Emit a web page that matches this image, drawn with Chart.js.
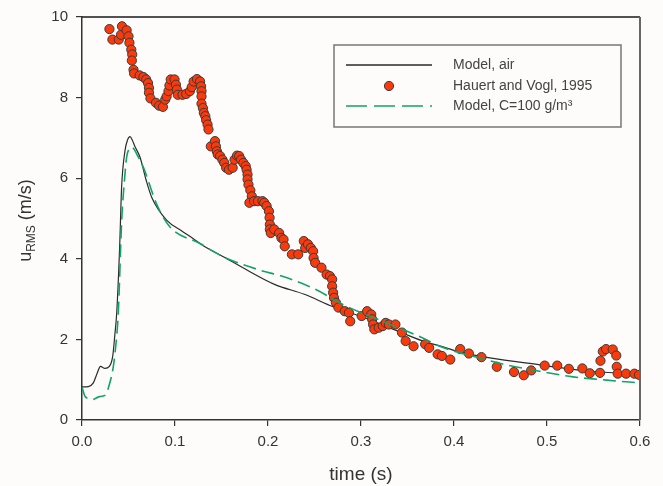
<!DOCTYPE html>
<html>
<head>
<meta charset="utf-8">
<title>u_RMS vs time</title>
<script src="https://cdn.jsdelivr.net/npm/chart.js@4/dist/chart.umd.min.js"></script>
<style>
  html, body { margin: 0; padding: 0; background: #fefcfb; }
  #wrap { width: 663px; height: 486px; position: relative; }
</style>
</head>
<body>
<div id="wrap"><canvas id="c" width="663" height="486"></canvas></div>
<script>
// Model, air
const airTime = [0, 0.0068, 0.0122, 0.0158, 0.020, 0.0247, 0.0294, 0.033, 0.0355, 0.0373, 0.0405, 0.0426, 0.0462, 0.049, 0.0516, 0.054, 0.0568, 0.0624, 0.069, 0.0749, 0.091, 0.108, 0.1197, 0.130, 0.152, 0.1806, 0.2076, 0.239, 0.270, 0.2984, 0.335, 0.3665, 0.3845, 0.403, 0.4385, 0.4923, 0.546, 0.6];
const airU = [0.82, 0.83, 0.92, 1.13, 1.33, 1.28, 1.33, 1.58, 2.16, 2.65, 4.30, 5.78, 6.68, 6.95, 7.03, 6.95, 6.79, 6.52, 5.95, 5.53, 4.96, 4.68, 4.50, 4.33, 4.05, 3.68, 3.36, 3.12, 2.81, 2.58, 2.25, 1.96, 1.84, 1.71, 1.54, 1.37, 1.21, 1.14];

// Hauert and Vogl, 1995
const hvTime = [0.0295,0.0327,0.0395,0.042,0.043,0.048,0.050,0.051,0.053,0.054,
  0.0536,0.0554,0.056,0.062,0.066,0.069,0.071,0.072,0.072,0.0736,
  0.0795,0.083,0.087,0.0895,0.091,0.093,0.094,0.0954,0.0995,0.101,
  0.102,0.103,0.108,0.112,0.116,0.118,0.120,0.1236,0.127,0.128,
  0.1285,0.1285,0.1285,0.130,0.131,0.1326,0.1335,0.135,0.136,0.1385,
  0.143,0.144,0.145,0.146,0.1485,0.151,0.153,0.155,0.158,0.162,
  0.164,0.1667,0.169,0.171,0.1735,0.176,0.177,0.178,0.178,0.179,
  0.181,0.1826,0.180,0.185,0.189,0.194,0.196,0.1985,0.201,0.2017,
  0.202,0.202,0.203,0.2067,0.212,0.2144,0.2167,0.218,0.2257,0.2325,
  0.2385,0.240,0.243,0.246,0.2485,0.249,0.2507,0.2575,0.263,0.2666,
  0.269,0.269,0.270,0.271,0.273,0.2757,0.2825,0.287,0.2884,0.3007,
  0.3066,0.311,0.312,0.313,0.3143,0.319,0.3234,0.3266,0.330,0.337,
  0.344,0.348,0.3565,0.369,0.3733,0.3824,0.387,0.396,0.4067,0.416,
  0.4295,0.446,0.4645,0.475,0.483,0.4975,0.511,0.5235,0.538,0.546,
  0.557,0.5575,0.560,0.5635,0.5707,0.5745,0.575,0.576,0.585,0.594,
  0.599];
const hvU = [9.70,9.44,9.44,9.56,9.77,9.67,9.52,9.36,9.19,9.07,
  8.92,8.69,8.60,8.55,8.51,8.45,8.36,8.24,8.12,7.98,
  7.87,7.80,7.77,7.95,8.03,8.16,8.30,8.45,8.45,8.32,
  8.20,8.07,8.07,8.09,8.16,8.26,8.40,8.46,8.40,8.28,
  8.16,8.03,7.85,7.74,7.62,7.54,7.44,7.33,7.21,6.79,
  6.92,6.79,6.67,6.59,6.55,6.46,6.38,6.26,6.21,6.26,
  6.46,6.56,6.55,6.46,6.38,6.30,6.21,6.09,5.97,5.84,
  5.70,5.55,5.39,5.43,5.43,5.43,5.39,5.31,5.18,5.02,
  4.85,4.73,4.64,4.73,4.64,4.52,4.48,4.31,4.11,4.11,
  4.44,4.27,4.36,4.27,4.19,4.02,3.90,3.78,3.61,3.57,
  3.49,3.32,3.16,3.03,2.91,2.79,2.70,2.66,2.45,2.58,
  2.70,2.62,2.50,2.37,2.25,2.29,2.33,2.41,2.37,2.37,
  2.17,1.96,1.83,1.88,1.79,1.63,1.59,1.50,1.76,1.65,
  1.56,1.32,1.19,1.11,1.23,1.35,1.35,1.27,1.28,1.16,
  1.17,1.47,1.70,1.76,1.75,1.60,1.32,1.15,1.15,1.15,
  1.12];

// Model, C=100 g/m3
const loadTime = [0, 0.0032, 0.0077, 0.0115, 0.0186, 0.0247, 0.0294, 0.0337, 0.0366, 0.039, 0.0427, 0.0455, 0.048, 0.0505, 0.0534, 0.056, 0.060, 0.066, 0.080, 0.0946, 0.1268, 0.152, 0.191, 0.2163, 0.252, 0.281, 0.324, 0.367, 0.3845, 0.4205, 0.456, 0.492, 0.528, 0.564, 0.6];
const loadU = [0.82, 0.59, 0.53, 0.51, 0.58, 0.61, 0.88, 1.33, 1.91, 2.65, 4.96, 5.90, 6.52, 6.72, 6.77, 6.72, 6.55, 6.27, 5.37, 4.79, 4.38, 4.05, 3.72, 3.56, 3.23, 2.86, 2.44, 2.03, 1.83, 1.58, 1.37, 1.21, 1.07, 0.99, 0.92];

const xTicks = [0, 0.1, 0.2, 0.3, 0.4, 0.5, 0.6];
const yTicks = [0, 2, 4, 6, 8, 10];

const legendLabels = ['Model, air', 'Hauert and Vogl, 1995', 'Model, C=100 g/m\u00B3'];
const xTitle = 'time (s)';
const yTitleMain = 'u', yTitleSub = 'RMS', yTitleRest = ' (m/s)';

const FONT = '"Liberation Sans", Arial, sans-serif';
const BG = '#fefcfb';
const AIR_COLOR = '#2b2b2b';
const LOAD_COLOR = '#12a36a';
const DOT_FILL = '#fb3a0c';
const DOT_EDGE = '#3a3a3a';

const pts = (xs, ys) => xs.map((x, i) => ({ x: x, y: ys[i] }));

// Frame, axis titles and the in-plot legend
const decor = {
  id: 'decor',
  beforeDraw(chart) {
    const c = chart.ctx;
    c.save();
    c.fillStyle = BG;
    c.fillRect(0, 0, chart.width, chart.height);
    c.restore();
  },
  afterDraw(chart) {
    const c = chart.ctx;
    const a = chart.chartArea;
    c.save();
    // top and right edges of the box
    c.strokeStyle = '#1a1a1a';
    c.lineWidth = 1.5;
    c.beginPath();
    c.moveTo(a.left, a.top);
    c.lineTo(a.right, a.top);
    c.stroke();
    c.strokeStyle = '#666';
    c.lineWidth = 2;
    c.beginPath();
    c.moveTo(a.right, a.top);
    c.lineTo(a.right, a.bottom);
    c.stroke();

    // x title
    c.fillStyle = '#333';
    c.font = '19px ' + FONT;
    c.textAlign = 'center';
    c.textBaseline = 'alphabetic';
    c.fillText(xTitle, (a.left + a.right) / 2, 480);

    // y title with subscript
    c.translate(31, (a.top + a.bottom) / 2 + 2);
    c.rotate(-Math.PI / 2);
    const big = '18px ' + FONT, small = '12px ' + FONT;
    c.font = big; const w1 = c.measureText(yTitleMain).width;
    c.font = small; const w2 = c.measureText(yTitleSub).width;
    c.font = big; const w3 = c.measureText(yTitleRest).width;
    let x0 = -(w1 + w2 + w3) / 2;
    c.textAlign = 'left';
    c.font = big; c.fillText(yTitleMain, x0, 0); x0 += w1;
    c.font = small; c.fillText(yTitleSub, x0, 4); x0 += w2;
    c.font = big; c.fillText(yTitleRest, x0, 0);
    c.setTransform(1, 0, 0, 1, 0, 0);

    // legend box
    const bx = 334, by = 45, bw = 287, bh = 82;
    c.fillStyle = BG;
    c.fillRect(bx, by, bw, bh);
    c.strokeStyle = '#777';
    c.lineWidth = 1.5;
    c.strokeRect(bx, by, bw, bh);
    const rows = [65, 86, 106];
    const lx0 = 346, lx1 = 432, tx = 453;
    // row 1: solid line
    c.strokeStyle = AIR_COLOR; c.lineWidth = 1.3;
    c.beginPath(); c.moveTo(lx0, rows[0]); c.lineTo(lx1, rows[0]); c.stroke();
    // row 2: dot
    c.fillStyle = DOT_FILL; c.strokeStyle = DOT_EDGE; c.lineWidth = 1;
    c.beginPath(); c.arc(389, rows[1], 4.6, 0, Math.PI * 2); c.fill(); c.stroke();
    // row 3: dashed line
    c.strokeStyle = LOAD_COLOR; c.lineWidth = 1.6; c.setLineDash([21, 7]);
    c.beginPath(); c.moveTo(lx0, rows[2]); c.lineTo(lx1, rows[2]); c.stroke();
    c.setLineDash([]);
    // texts
    c.fillStyle = '#444';
    c.font = '14px ' + FONT;
    c.textAlign = 'left';
    c.textBaseline = 'middle';
    legendLabels.forEach((t, i) => c.fillText(t, tx, rows[i]));
    c.restore();
  }
};

new Chart(document.getElementById('c'), {
  type: 'line',
  data: {
    datasets: [
      {
        label: legendLabels[0],
        data: pts(airTime, airU),
        borderColor: AIR_COLOR,
        borderWidth: 1.2,
        pointRadius: 0,
        cubicInterpolationMode: 'monotone',
        fill: false,
        order: 2
      },
      {
        label: legendLabels[1],
        data: pts(hvTime, hvU),
        showLine: false,
        pointRadius: 4.6,
        pointBackgroundColor: DOT_FILL,
        pointBorderColor: DOT_EDGE,
        pointBorderWidth: 1,
        order: 1
      },
      {
        label: legendLabels[2],
        data: pts(loadTime, loadU),
        borderColor: LOAD_COLOR,
        borderWidth: 1.6,
        borderDash: [13, 6],
        pointRadius: 0,
        cubicInterpolationMode: 'monotone',
        fill: false,
        order: 0
      }
    ]
  },
  options: {
    responsive: false,
    animation: false,
    layout: { padding: { left: 0, top: 16, right: 23, bottom: 0 } },
    plugins: { legend: { display: false }, tooltip: { enabled: false } },
    scales: {
      x: {
        type: 'linear',
        min: 0, max: 0.6,
        afterFit(s) { s.height = 66; },
        afterBuildTicks(s) { s.ticks = xTicks.map(v => ({ value: v })); },
        ticks: {
          callback: v => v.toFixed(1),
          color: '#333',
          font: { family: FONT, size: 15 },
          padding: 7,
          maxRotation: 0
        },
        grid: { drawOnChartArea: false, drawTicks: true, tickLength: 6, color: '#333', lineWidth: 1.2 },
        border: { display: true, color: '#333', width: 1.5 }
      },
      y: {
        min: 0, max: 10,
        afterFit(s) { s.width = 82; },
        afterBuildTicks(s) { s.ticks = yTicks.map(v => ({ value: v })); },
        ticks: {
          callback: v => String(v),
          color: '#333',
          font: { family: FONT, size: 15 },
          padding: 8
        },
        grid: { drawOnChartArea: false, drawTicks: true, tickLength: 6, color: '#333', lineWidth: 1.2 },
        border: { display: true, color: '#333', width: 1.5 }
      }
    }
  },
  plugins: [decor]
});
</script>
</body>
</html>
